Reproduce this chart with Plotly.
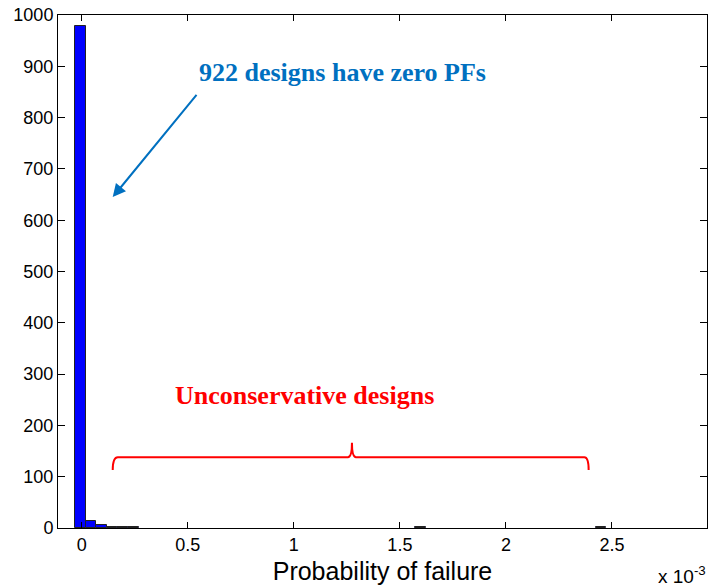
import plotly.graph_objects as go

# Histogram of probability of failure (x in units of 1e-3)
bin_centers = [-0.007, 0.043, 0.093, 0.143, 0.193, 0.244, 1.596, 2.448]
bin_counts = [978, 14, 6, 2, 2, 2, 1, 1]
bin_width = 0.0501

x_ticks = [0, 0.5, 1, 1.5, 2, 2.5]
x_tick_labels = ["0", "0.5", "1", "1.5", "2", "2.5"]
y_ticks = [0, 100, 200, 300, 400, 500, 600, 700, 800, 900, 1000]

fig = go.Figure()
fig.add_trace(go.Bar(
    x=bin_centers, y=bin_counts, width=bin_width,
    marker=dict(color="#0000FF", line=dict(color="#222222", width=1)),
    showlegend=False,
))

sans = "Arial, Liberation Sans, sans-serif"
serif = "Times New Roman, Liberation Serif, serif"

fig.update_layout(
    width=711, height=588,
    margin=dict(l=58, r=4, t=15, b=60),
    plot_bgcolor="white", paper_bgcolor="white",
    bargap=0,
    xaxis=dict(
        range=[-0.112, 2.948], tickvals=x_ticks, ticktext=x_tick_labels,
        ticks="inside", ticklen=6, tickcolor="black", mirror="ticks",
        showline=True, linecolor="black", linewidth=1, showgrid=False, zeroline=False,
        tickfont=dict(family=sans, size=18, color="black"),
        title=dict(text="Probability of failure", font=dict(family=sans, size=25, color="black"), standoff=8),
    ),
    yaxis=dict(
        range=[0, 1000], tickvals=y_ticks,
        ticks="inside", ticklen=7, tickcolor="black", mirror="ticks",
        showline=True, linecolor="black", linewidth=1, showgrid=False, zeroline=False,
        tickfont=dict(family=sans, size=18, color="black"),
    ),
    annotations=[
        dict(text="x 10<sup>-3</sup>", xref="paper", yref="paper", x=1.002, y=-0.064,
             xanchor="right", yanchor="top", showarrow=False,
             font=dict(family=sans, size=19, color="black")),
        dict(text="<b>922 designs have zero PFs</b>", x=0.542, y=887, xref="x", yref="y",
             xanchor="left", yanchor="middle", showarrow=False,
             font=dict(family=serif, size=26, color="#0070C0")),
        dict(text="", x=0.146, y=645, ax=0.547, ay=847, xref="x", yref="y", axref="x", ayref="y",
             showarrow=True, arrowhead=2, arrowsize=1.3, arrowwidth=2, arrowcolor="#0070C0"),
        dict(text="<b>Unconservative designs</b>", x=0.43, y=258, xref="x", yref="y",
             xanchor="left", yanchor="middle", showarrow=False,
             font=dict(family=serif, size=26, color="#FF0000")),
    ],
    shapes=[
        dict(type="path", xref="x", yref="y",
             path="M 0.146 113 Q 0.146 138 0.17 138 L 1.255 138 Q 1.274 138 1.274 166 "
                  "Q 1.274 138 1.293 138 L 2.37 138 Q 2.39 138 2.39 113",
             line=dict(color="#FF0000", width=2)),
    ],
)

fig.write_html("out.html")
